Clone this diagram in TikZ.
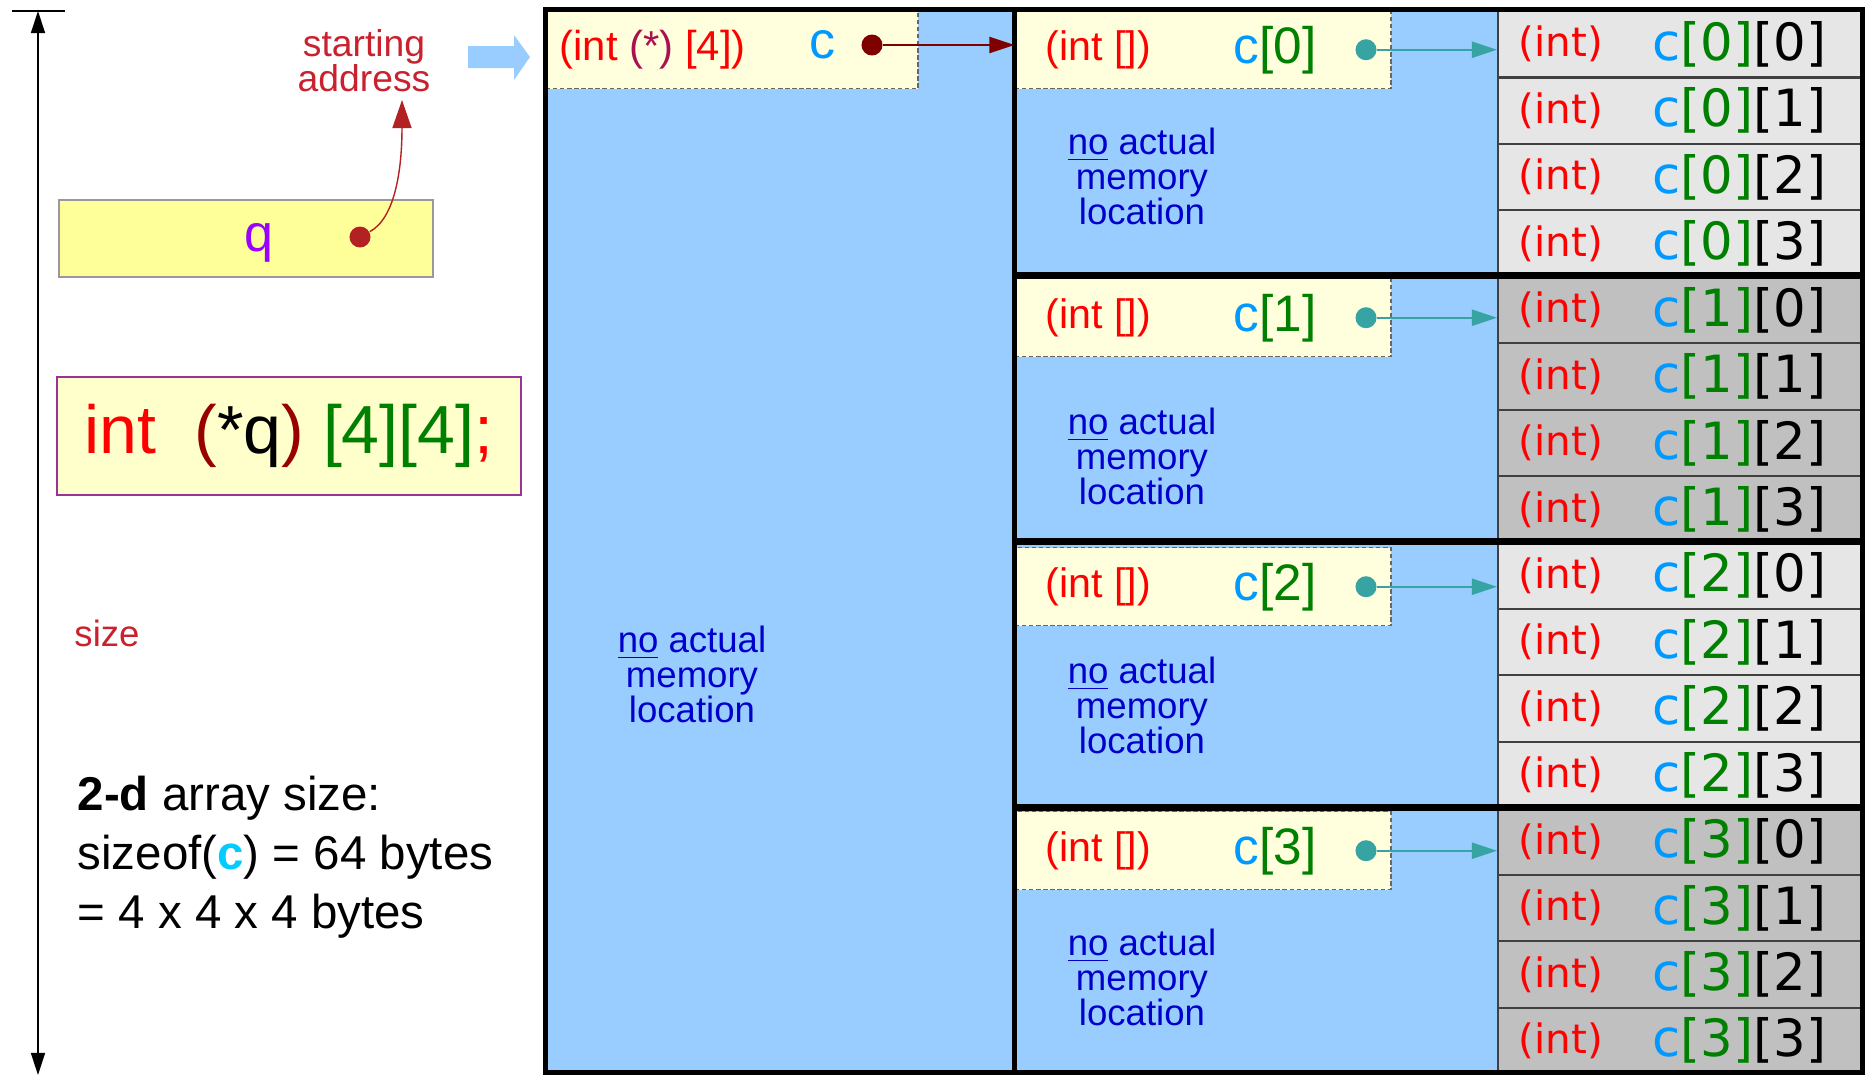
\documentclass[tikz,border=0pt]{standalone}
\usepackage{fontspec}
\setmainfont{Liberation Sans}
\newfontfamily\dejavu{DejaVu Sans}
\usepackage{xcolor}
\usepackage{tikz}
\usetikzlibrary{positioning, arrows.meta, calc}
\definecolor{memblue}{HTML}{99CCFF}
\definecolor{cream}{HTML}{FFFFDD}
\definecolor{qyellow}{HTML}{FFFF99}
\definecolor{codebg}{HTML}{FFFFCC}
\definecolor{codeframe}{HTML}{993399}
\definecolor{cellA}{HTML}{E6E6E6}
\definecolor{cellB}{HTML}{C0C0C0}
\definecolor{ptrteal}{HTML}{37A3A3}
\definecolor{ptrred}{HTML}{800000}
\definecolor{qdot}{HTML}{B22222}
\definecolor{qpurple}{HTML}{9900FF}
\definecolor{cblue}{HTML}{0099FF}
\definecolor{sizecyan}{HTML}{00CCFF}
\definecolor{idxgreen}{HTML}{008000}
\definecolor{addrred}{HTML}{C9212E}
\definecolor{nomemblue}{HTML}{0000CC}
\definecolor{starred}{HTML}{AA1150}
\definecolor{parred}{HTML}{990000}

\begin{document}
\begin{tikzpicture}[x=0.01cm, y=-0.01cm]
  \tikzset{memframe/.style={line width=0.058cm,draw=black}, secline/.style={line width=0.07cm,draw=black},
    ptrbox/.style={draw=black!60,dash pattern=on 1.2pt off 0.8pt,fill=cream,line width=0.4pt,minimum width=3.755cm,minimum height=0.78cm,anchor=north west,inner sep=0pt},
    memcell/.style={draw=black!75,fill=#1,line width=0.6pt,minimum width=3.65cm,minimum height=0.6644cm,anchor=north west,inner sep=0pt},
    lbl/.style={inner sep=0pt,anchor=west},
    nomem/.style={inner sep=0pt,align=center,text=nomemblue,font=\fontsize{10.4}{9.96}\selectfont},
    ptrdot/.style={circle,fill=#1,inner sep=0pt,minimum size=0.21cm},
    ptr/.style={draw=#1,line width=0.6pt,-{Triangle[length=0.25cm,width=0.16cm]}}}
  \useasboundingbox (0,0) rectangle (1868,1075);
  \coordinate (sztop) at (38,11); \coordinate (szbot) at (38,1075);
  \draw[line width=0.4pt] ($(sztop)+(-26,0)$) -- ($(sztop)+(27,0)$);
  \draw[line width=0.4pt,{Triangle[length=0.22cm,width=0.14cm]}-{Triangle[length=0.22cm,width=0.14cm]}] (sztop) -- (szbot);
  \node[lbl,anchor=center,text=addrred,font=\fontsize{10.4}{12}\selectfont] (size) at (107,633) {size};
  \node[draw=black!40,fill=qyellow,minimum width=3.74cm,minimum height=0.77cm,inner sep=0pt,line width=0.5pt] (qbox) at (246,238.5) {};
  \node[lbl,anchor=center,text=qpurple,font=\fontsize{14.8}{16}\selectfont] (q) at (259,243) {q};
  \node[ptrdot=qdot] (qd) at (360,237) {};
  \node[lbl,anchor=center,align=center,text=addrred,font=\fontsize{10.6}{9.96}\selectfont] (start) at (364,61) {starting\\address};
  \coordinate (qtip) at (402,100);
  \draw[qdot,line width=0.4pt,-{Triangle[length=0.28cm,width=0.19cm]}] (qd) .. controls (395,218) and (402,170) .. (qtip);
  \fill[memblue] (468,46) -- (514,46) -- (514,35) -- (530,57) -- (514,80) -- (514,68) -- (468,68) -- cycle;
  \node[draw=codeframe,fill=codebg,line width=0.4pt,minimum width=4.64cm,minimum height=1.18cm,inner sep=0pt,font=\fontsize{19.35}{22}\selectfont] (decl) at (289,436) {\textcolor{red}{int}\ \ \textcolor{parred}{(}*q\textcolor{parred}{)} \textcolor{idxgreen}{[4][4]}\textcolor{red}{;}};
  \node[lbl,anchor=north west,align=left,font=\fontsize{13.5}{16.8}\selectfont] (arrsize) at (77,775) {\textbf{2-d} array size:\\sizeof(\textcolor{sizecyan}{\textbf{c}}) = 64 bytes\\= 4 x 4 x 4 bytes};
  \fill[memblue] (545.5,9.5) rectangle (1862.5,1073);
  \foreach \s in {0,...,3}{
    \pgfmathsetmacro\sectop{10+265.75*\s}
    \ifodd\s\def\cellfill{cellB}\else\def\cellfill{cellA}\fi
    \foreach \r in {0,...,3}{
      \pgfmathsetmacro\rowtop{\sectop+66.44*\r}
      \node[memcell=\cellfill] (c\s\r) at (1497,\rowtop) {};
      \node[lbl,text=red,font=\dejavu\fontsize{11.5}{13}\selectfont] (t\s\r) at ($(c\s\r.west)+(21,0)$) {(int)};
      \node[lbl,font=\dejavu\fontsize{14.6}{16}\selectfont] (n\s\r) at ($(c\s\r.west)+(155,0)$) {\textcolor{cblue}{c}\textcolor{idxgreen}{[\s]}[\r]};
    }
  }
  \node[ptrbox,minimum width=3.715cm,minimum height=0.785cm] (cptr) at (545.5,9.5) {};
  \foreach \s/\bt in {0/10,1/278,2/547,3/811} \node[ptrbox] (p\s) at (1014.5,\bt) {};
  \draw[memframe] (545.5,9.5) rectangle (1862.5,1073);
  \draw[memframe] (1014.5,9.5) -- (1014.5,1073);
  \foreach \y in {275.75,541.5,807.25} \draw[secline] (1014.5,\y) -- (1862.5,\y);
  \node[lbl,text=red,font=\fontsize{11.9}{14}\selectfont] (ctype) at (559,50) {(int \textcolor{starred}{(*)} [4])};
  \node[lbl,anchor=center,text=cblue,font=\fontsize{14.8}{16}\selectfont] (cname) at (823,45) {c};
  \node[ptrdot=ptrred] (cd) at (872,45) {};
  \draw[ptr=ptrred] (cd) -- (cd -| p0.west);
  \node[nomem] (nmc) at (692,674) {\underline{no} actual\\memory\\location};
  \foreach \s/\nt in {0/176,1/456,2/705,3/977}{
    \node[lbl,text=red,font=\fontsize{11.7}{14}\selectfont] (pt\s) at ($(p\s.west)+(30.5,0)$) {(int [])};
    \node[lbl,font=\fontsize{14.6}{16}\selectfont] (pn\s) at ($(p\s.west)+(218.5,0)$) {\textcolor{cblue}{c}\textcolor{idxgreen}{[\s]}};
    \node[ptrdot=ptrteal] (d\s) at ($(p\s.west)+(351.5,0)$) {};
    \draw[ptr=ptrteal] (d\s) -- (d\s -| c\s0.west);
    \node[nomem] (nm\s) at (1142,\nt) {\underline{no} actual\\memory\\location};
  }
\end{tikzpicture}
\end{document}
